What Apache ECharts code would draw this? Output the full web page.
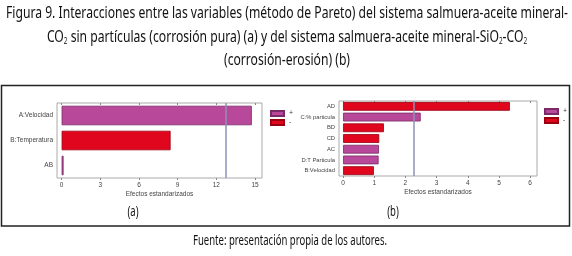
<!DOCTYPE html>
<html>
<head>
<meta charset="utf-8">
<script src="https://cdn.jsdelivr.net/npm/echarts@6/dist/echarts.min.js"></script>
<style>
  html, body { margin: 0; background: #fff; }
  #chart { width: 572px; height: 256px; }
</style>
</head>
<body>
<div id="chart"></div>
<script>
  // (a) corrosión pura
  const catsA = ['A:Velocidad', 'B:Temperatura', 'AB'];
  const plusA = [14.75, '-', 0.15];
  const minusA = ['-', 8.45, '-'];
  const critA = 12.71;
  const ticksA = [0, 3, 6, 9, 12, 15];

  // (b) corrosión-erosión
  const catsB = ['AD', 'C:% particula', 'BD', 'CD', 'AC', 'D:T Particula', 'B:Velocidad'];
  const plusB = ['-', 2.49, '-', '-', 1.15, 1.14, '-'];
  const minusB = [5.35, '-', 1.31, 1.16, '-', '-', 0.99];
  const critB = 2.26;
  const ticksB = [0, 1, 2, 3, 4, 5, 6];

  const capFont = "'Noto Sans', 'DejaVu Sans', sans-serif";
  const small = "'Liberation Sans', Arial, sans-serif";
  const purple = '#b8489a';
  const red = '#e0061e';

  const line1 = 'Figura 9. Interacciones entre las variables (método de Pareto) del sistema salmuera-aceite mineral-';
  const line2 = 'CO{s|2} sin partículas (corrosión pura) (a) y del sistema salmuera-aceite mineral-SiO{s|2}-CO{s|2}';
  const line3 = '(corrosión-erosión) (b)';
  const source = 'Fuente: presentación propia de los autores.';

  // the original caption font is condensed: squeeze a normal font to the same width
  const ctx = document.createElement('canvas').getContext('2d');
  function textWidth(text, size) {
    let w = 0;
    text.split(/(\{s\|[^}]*\})/).forEach(part => {
      const m = part.match(/^\{s\|([^}]*)\}$/);
      ctx.font = (m ? 9 : size) + 'px ' + capFont;
      w += ctx.measureText(m ? m[1] : part).width;
    });
    return w;
  }
  const sqTitle = 562 / textWidth(line1, 17);
  const sqSource = 194 / textWidth(source, 14);

  const rich = {
    s: { fontSize: 9, fontFamily: capFont, fill: '#111', padding: [8, 0, 0, 0] }
  };

  function capText(x, y, text, size, sq) {
    return {
      type: 'text', x: x, y: y, scaleX: sq, silent: true,
      style: {
        text: text, fontSize: size, fontFamily: capFont, fill: '#111',
        align: 'center', verticalAlign: 'middle', rich: rich
      }
    };
  }

  function valueAxis(idx, min, max, ticks, top) {
    return {
      type: 'value', gridIndex: idx, min: min, max: max,
      position: top ? 'top' : 'bottom',
      name: top ? '' : 'Efectos estandarizados',
      nameLocation: 'middle', nameGap: 13,
      nameTextStyle: { fontSize: 6.5, color: '#444', fontFamily: small },
      axisLine: { show: false },
      axisTick: { show: true, customValues: ticks, length: 2, inside: top, lineStyle: { color: '#888' } },
      axisLabel: { show: !top, customValues: ticks, fontSize: 6.5, color: '#444', margin: 4, fontFamily: small },
      splitLine: { show: false }
    };
  }

  function catAxis(idx, cats, size) {
    return {
      type: 'category', gridIndex: idx, data: cats, inverse: true,
      axisLine: { show: false },
      axisTick: { show: false },
      axisLabel: { fontSize: size, color: '#444', margin: 4, fontFamily: small }
    };
  }

  function bars(name, data, color, border, xi, gap, crit) {
    const s = {
      name: name, type: 'bar', data: data, xAxisIndex: xi, yAxisIndex: xi > 1 ? 1 : 0,
      barGap: '-100%', barCategoryGap: gap,
      itemStyle: { color: color, borderColor: border, borderWidth: 0.8 }
    };
    if (crit !== undefined) {
      s.markLine = {
        silent: true, symbol: 'none', label: { show: false },
        lineStyle: { color: '#8f91b5', width: 1.5, type: 'solid' },
        data: [{ xAxis: crit }]
      };
    }
    return s;
  }

  function legendAt(left, top) {
    return {
      orient: 'vertical', left: left, top: top, padding: 0,
      itemWidth: 13, itemHeight: 5, itemGap: 2,
      icon: 'rect', data: ['+', '-'],
      textStyle: { fontSize: 7, color: '#444', fontFamily: small }
    };
  }

  const chart = echarts.init(document.getElementById('chart'));
  chart.setOption({
    animation: false,
    grid: [
      { left: 57, top: 103, width: 205, height: 75, show: true, borderColor: '#aaa', borderWidth: 1 },
      { left: 339, top: 101, width: 198, height: 75, show: true, borderColor: '#aaa', borderWidth: 1 }
    ],
    xAxis: [
      valueAxis(0, -0.36, 15.54, ticksA, false),
      valueAxis(0, -0.36, 15.54, ticksA, true),
      valueAxis(1, -0.13, 6.22, ticksB, false),
      valueAxis(1, -0.13, 6.22, ticksB, true)
    ],
    yAxis: [catAxis(0, catsA, 6.5), catAxis(1, catsB, 5.8)],
    legend: [legendAt(270, 110), legendAt(544, 108)],
    series: [
      bars('+', plusA, purple, '#7a2a66', 0, '22%', critA),
      bars('-', minusA, red, '#9a0010', 0, '22%'),
      bars('+', plusB, purple, '#7a2a66', 2, '18%', critB),
      bars('-', minusB, red, '#9a0010', 2, '18%')
    ],
    graphic: [
      capText(287, 13, line1, 17, sqTitle),
      capText(287, 37, line2, 17, sqTitle),
      capText(287, 60, line3, 17, sqTitle),
      capText(133, 212, '(a)', 14, sqSource),
      capText(393, 212, '(b)', 14, sqSource),
      capText(290, 241, source, 14, sqSource),
      {
        type: 'rect', silent: true,
        shape: { x: 1.5, y: 85.5, width: 568, height: 140.5 },
        style: { fill: 'none', stroke: '#222', lineWidth: 1.5 }
      }
    ]
  });
</script>
</body>
</html>
